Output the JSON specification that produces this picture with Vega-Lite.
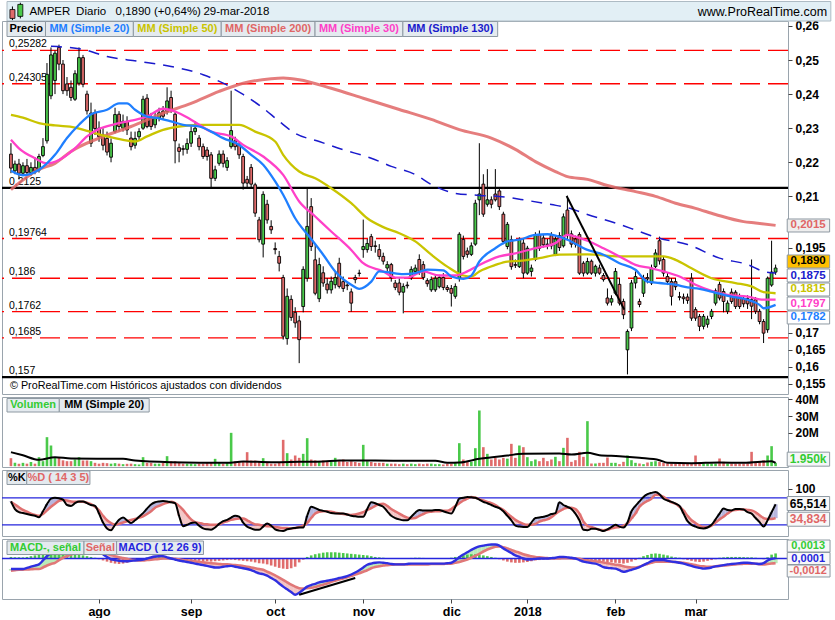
{
"$schema": "https://vega.github.io/schema/vega-lite/v6.json",
"background": "white",
"padding": 0,
"spacing": 3,
"bounds": "flush",
"config": {
  "view": {"stroke": "#9aa4ad", "strokeWidth": 1},
  "font": "Liberation Sans",
  "axis": {"grid": false, "domain": false, "ticks": true, "tickColor": "#444", "tickSize": 4, "labelFont": "Liberation Sans", "labelFontWeight": "bold", "labelFontSize": 12, "labelColor": "#000", "labelPadding": 3}
},
"datasets": {
"lvl": [{"p":0.25282,"t":"0,25282","k":"r"},{"p":0.24305,"t":"0,24305","k":"r"},{"p":0.2125,"t":"0,2125","k":"b"},{"p":0.19764,"t":"0,19764","k":"r"},{"p":0.186,"t":"0,186","k":"r"},{"p":0.1762,"t":"0,1762","k":"r"},{"p":0.1685,"t":"0,1685","k":"r"},{"p":0.157,"t":"0,157","k":"b"}],
"tags": [{"s":"MM50","t":"0,1815","at":0.1827},{"s":"MM30","t":"0,1797","at":0.17859},{"s":"MM20","t":"0,1782","at":0.17449},{"s":"MM130","t":"0,1875","at":0.1868},{"s":"Precio","t":"0,1890","at":0.19091},{"s":"MM200","t":"0,2015","at":0.20147}],
"vma": [{"i":0,"v":8.4},{"i":3,"v":6.5},{"i":7,"v":3.8},{"i":11,"v":5.4},{"i":15,"v":4.6},{"i":28,"v":4.4},{"i":31,"v":3.4},{"i":40,"v":2.4},{"i":54,"v":2.0},{"i":58,"v":2.8},{"i":65,"v":2.4},{"i":72,"v":2.6},{"i":78,"v":2.8},{"i":82,"v":3.4},{"i":91,"v":3.4},{"i":100,"v":3.2},{"i":106,"v":3.2},{"i":109,"v":2.0},{"i":112,"v":2.2},{"i":117,"v":4.4},{"i":124,"v":6.4},{"i":128,"v":7.4},{"i":137,"v":7.6},{"i":140,"v":7.0},{"i":144,"v":8.0},{"i":147,"v":6.6},{"i":152,"v":6.0},{"i":157,"v":5.0},{"i":162,"v":3.6},{"i":164,"v":2.0},{"i":170,"v":1.8},{"i":177,"v":2.2},{"i":183,"v":2.0},{"i":190,"v":3.0},{"i":191,"v":2.0}],
"ma": [
{"s":"MM200","i":0,"v":0.212},{"s":"MM200","i":7,"v":0.2179},{"s":"MM200","i":11,"v":0.2197},{"s":"MM200","i":15,"v":0.2232},{"s":"MM200","i":22,"v":0.2271},{"s":"MM200","i":30,"v":0.2305},{"s":"MM200","i":38,"v":0.2344},{"s":"MM200","i":45,"v":0.2373},{"s":"MM200","i":52,"v":0.2408},{"s":"MM200","i":58,"v":0.2432},{"s":"MM200","i":65,"v":0.2445},{"s":"MM200","i":68,"v":0.2447},{"s":"MM200","i":72,"v":0.2442},{"s":"MM200","i":80,"v":0.2417},{"s":"MM200","i":88,"v":0.2388},{"s":"MM200","i":97,"v":0.2355},{"s":"MM200","i":105,"v":0.2326},{"s":"MM200","i":112,"v":0.2296},{"s":"MM200","i":120,"v":0.2271},{"s":"MM200","i":126,"v":0.2238},{"s":"MM200","i":131,"v":0.2202},{"s":"MM200","i":136,"v":0.2173},{"s":"MM200","i":139,"v":0.2158},{"s":"MM200","i":144,"v":0.215},{"s":"MM200","i":149,"v":0.2132},{"s":"MM200","i":156,"v":0.2114},{"s":"MM200","i":161,"v":0.21},{"s":"MM200","i":166,"v":0.208},{"s":"MM200","i":171,"v":0.2065},{"s":"MM200","i":176,"v":0.2047},{"s":"MM200","i":183,"v":0.2026},{"s":"MM200","i":186,"v":0.2022},{"s":"MM200","i":191,"v":0.2015},
{"s":"MM130","i":10,"v":0.254},{"s":"MM130","i":18,"v":0.2531},{"s":"MM130","i":24,"v":0.251},{"s":"MM130","i":32,"v":0.2496},{"s":"MM130","i":40,"v":0.2481},{"s":"MM130","i":48,"v":0.2457},{"s":"MM130","i":53,"v":0.2432},{"s":"MM130","i":58,"v":0.2399},{"s":"MM130","i":63,"v":0.2359},{"s":"MM130","i":67,"v":0.232},{"s":"MM130","i":71,"v":0.2285},{"s":"MM130","i":77,"v":0.2261},{"s":"MM130","i":83,"v":0.2237},{"s":"MM130","i":90,"v":0.2212},{"s":"MM130","i":95,"v":0.2188},{"s":"MM130","i":101,"v":0.2164},{"s":"MM130","i":105,"v":0.2135},{"s":"MM130","i":111,"v":0.2109},{"s":"MM130","i":117,"v":0.2103},{"s":"MM130","i":122,"v":0.21},{"s":"MM130","i":129,"v":0.2088},{"s":"MM130","i":135,"v":0.2076},{"s":"MM130","i":139,"v":0.2067},{"s":"MM130","i":144,"v":0.2047},{"s":"MM130","i":152,"v":0.2018},{"s":"MM130","i":157,"v":0.1997},{"s":"MM130","i":162,"v":0.1977},{"s":"MM130","i":169,"v":0.1959},{"s":"MM130","i":177,"v":0.1919},{"s":"MM130","i":184,"v":0.19},{"s":"MM130","i":188,"v":0.188},{"s":"MM130","i":191,"v":0.1875},
{"s":"MM50","i":0,"v":0.2339},{"s":"MM50","i":3,"v":0.2331},{"s":"MM50","i":7,"v":0.2315},{"s":"MM50","i":11,"v":0.2308},{"s":"MM50","i":16,"v":0.2302},{"s":"MM50","i":19,"v":0.2292},{"s":"MM50","i":24,"v":0.2276},{"s":"MM50","i":28,"v":0.2266},{"s":"MM50","i":31,"v":0.2261},{"s":"MM50","i":34,"v":0.2276},{"s":"MM50","i":38,"v":0.2295},{"s":"MM50","i":42,"v":0.2305},{"s":"MM50","i":47,"v":0.231},{"s":"MM50","i":53,"v":0.231},{"s":"MM50","i":57,"v":0.231},{"s":"MM50","i":61,"v":0.229},{"s":"MM50","i":66,"v":0.2261},{"s":"MM50","i":68,"v":0.2222},{"s":"MM50","i":72,"v":0.2173},{"s":"MM50","i":76,"v":0.2153},{"s":"MM50","i":80,"v":0.2124},{"s":"MM50","i":85,"v":0.208},{"s":"MM50","i":89,"v":0.2036},{"s":"MM50","i":93,"v":0.201},{"s":"MM50","i":97,"v":0.1992},{"s":"MM50","i":101,"v":0.1968},{"s":"MM50","i":105,"v":0.1929},{"s":"MM50","i":109,"v":0.1894},{"s":"MM50","i":113,"v":0.1868},{"s":"MM50","i":115,"v":0.1865},{"s":"MM50","i":117,"v":0.188},{"s":"MM50","i":121,"v":0.1899},{"s":"MM50","i":124,"v":0.1909},{"s":"MM50","i":127,"v":0.1911},{"s":"MM50","i":132,"v":0.1919},{"s":"MM50","i":137,"v":0.1929},{"s":"MM50","i":144,"v":0.193},{"s":"MM50","i":152,"v":0.1924},{"s":"MM50","i":163,"v":0.1924},{"s":"MM50","i":166,"v":0.1914},{"s":"MM50","i":170,"v":0.1889},{"s":"MM50","i":175,"v":0.186},{"s":"MM50","i":181,"v":0.1846},{"s":"MM50","i":185,"v":0.1836},{"s":"MM50","i":188,"v":0.1819},{"s":"MM50","i":191,"v":0.1816},
{"s":"MM30","i":0,"v":0.2266},{"s":"MM30","i":2,"v":0.2241},{"s":"MM30","i":6,"v":0.2212},{"s":"MM30","i":9,"v":0.2197},{"s":"MM30","i":12,"v":0.2207},{"s":"MM30","i":16,"v":0.2241},{"s":"MM30","i":19,"v":0.2276},{"s":"MM30","i":22,"v":0.2298},{"s":"MM30","i":26,"v":0.2312},{"s":"MM30","i":30,"v":0.2322},{"s":"MM30","i":34,"v":0.2334},{"s":"MM30","i":38,"v":0.2357},{"s":"MM30","i":41,"v":0.2349},{"s":"MM30","i":45,"v":0.2325},{"s":"MM30","i":50,"v":0.229},{"s":"MM30","i":55,"v":0.2276},{"s":"MM30","i":58,"v":0.2251},{"s":"MM30","i":63,"v":0.2217},{"s":"MM30","i":68,"v":0.2163},{"s":"MM30","i":72,"v":0.2085},{"s":"MM30","i":76,"v":0.2041},{"s":"MM30","i":80,"v":0.1997},{"s":"MM30","i":85,"v":0.1943},{"s":"MM30","i":88,"v":0.1904},{"s":"MM30","i":93,"v":0.188},{"s":"MM30","i":96,"v":0.1862},{"s":"MM30","i":99,"v":0.1862},{"s":"MM30","i":103,"v":0.188},{"s":"MM30","i":107,"v":0.1868},{"s":"MM30","i":111,"v":0.1868},{"s":"MM30","i":114,"v":0.188},{"s":"MM30","i":117,"v":0.1899},{"s":"MM30","i":122,"v":0.1924},{"s":"MM30","i":126,"v":0.1933},{"s":"MM30","i":131,"v":0.1948},{"s":"MM30","i":136,"v":0.1963},{"s":"MM30","i":139,"v":0.1987},{"s":"MM30","i":141,"v":0.1982},{"s":"MM30","i":144,"v":0.197},{"s":"MM30","i":148,"v":0.1948},{"s":"MM30","i":152,"v":0.1924},{"s":"MM30","i":156,"v":0.1899},{"s":"MM30","i":160,"v":0.1889},{"s":"MM30","i":163,"v":0.188},{"s":"MM30","i":167,"v":0.1865},{"s":"MM30","i":171,"v":0.1841},{"s":"MM30","i":175,"v":0.1823},{"s":"MM30","i":179,"v":0.1811},{"s":"MM30","i":184,"v":0.1806},{"s":"MM30","i":188,"v":0.1797},{"s":"MM30","i":191,"v":0.1797},
{"s":"MM20","i":0,"v":0.2175},{"s":"MM20","i":3,"v":0.2162},{"s":"MM20","i":7,"v":0.2178},{"s":"MM20","i":11,"v":0.2222},{"s":"MM20","i":14,"v":0.2271},{"s":"MM20","i":17,"v":0.231},{"s":"MM20","i":20,"v":0.2341},{"s":"MM20","i":24,"v":0.2354},{"s":"MM20","i":27,"v":0.2373},{"s":"MM20","i":29,"v":0.2373},{"s":"MM20","i":31,"v":0.2354},{"s":"MM20","i":34,"v":0.2334},{"s":"MM20","i":37,"v":0.2329},{"s":"MM20","i":40,"v":0.232},{"s":"MM20","i":43,"v":0.231},{"s":"MM20","i":47,"v":0.2305},{"s":"MM20","i":50,"v":0.229},{"s":"MM20","i":53,"v":0.2271},{"s":"MM20","i":57,"v":0.2251},{"s":"MM20","i":60,"v":0.2222},{"s":"MM20","i":63,"v":0.2193},{"s":"MM20","i":66,"v":0.2144},{"s":"MM20","i":68,"v":0.2105},{"s":"MM20","i":71,"v":0.2036},{"s":"MM20","i":75,"v":0.1975},{"s":"MM20","i":78,"v":0.1929},{"s":"MM20","i":81,"v":0.188},{"s":"MM20","i":85,"v":0.1841},{"s":"MM20","i":87,"v":0.1829},{"s":"MM20","i":90,"v":0.185},{"s":"MM20","i":92,"v":0.188},{"s":"MM20","i":94,"v":0.1878},{"s":"MM20","i":98,"v":0.1872},{"s":"MM20","i":101,"v":0.1875},{"s":"MM20","i":104,"v":0.1885},{"s":"MM20","i":108,"v":0.1883},{"s":"MM20","i":110,"v":0.1865},{"s":"MM20","i":113,"v":0.1858},{"s":"MM20","i":115,"v":0.1868},{"s":"MM20","i":117,"v":0.1909},{"s":"MM20","i":121,"v":0.1948},{"s":"MM20","i":124,"v":0.1968},{"s":"MM20","i":127,"v":0.1973},{"s":"MM20","i":131,"v":0.1987},{"s":"MM20","i":134,"v":0.1989},{"s":"MM20","i":136,"v":0.1985},{"s":"MM20","i":139,"v":0.1973},{"s":"MM20","i":144,"v":0.1943},{"s":"MM20","i":148,"v":0.1929},{"s":"MM20","i":152,"v":0.1904},{"s":"MM20","i":156,"v":0.1885},{"s":"MM20","i":159,"v":0.185},{"s":"MM20","i":162,"v":0.1846},{"s":"MM20","i":166,"v":0.1841},{"s":"MM20","i":169,"v":0.1833},{"s":"MM20","i":172,"v":0.1829},{"s":"MM20","i":175,"v":0.1821},{"s":"MM20","i":180,"v":0.1806},{"s":"MM20","i":184,"v":0.1797},{"s":"MM20","i":187,"v":0.1782},{"s":"MM20","i":188,"v":0.1772},{"s":"MM20","i":191,"v":0.1782}
],
"c": [
{"i":0,"o":0.2224,"h":0.2256,"l":0.2168,"c":0.2183,"v":4.8,"k":72,"d":71,"m":-0.0027,"s":-0.0031,"hh":0.0004},
{"i":1,"o":0.2175,"h":0.2205,"l":0.2165,"c":0.2195,"v":2,"k":55,"d":65,"m":-0.0027,"s":-0.003,"hh":0.0003},
{"i":2,"o":0.2195,"h":0.221,"l":0.215,"c":0.2168,"v":1.5,"k":48,"d":59,"m":-0.0027,"s":-0.0029,"hh":0.0003},
{"i":3,"o":0.2168,"h":0.22,"l":0.216,"c":0.219,"v":2,"k":46,"d":53,"m":-0.0027,"s":-0.00285,"hh":0.0003},
{"i":4,"o":0.219,"h":0.221,"l":0.216,"c":0.217,"v":1.5,"k":44,"d":49,"m":-0.0024,"s":-0.0028,"hh":0.0004},
{"i":5,"o":0.217,"h":0.22,"l":0.216,"c":0.2185,"v":2.5,"k":42,"d":45,"m":-0.0021,"s":-0.00275,"hh":0.0006},
{"i":6,"o":0.2185,"h":0.2215,"l":0.2165,"c":0.2175,"v":1.5,"k":40,"d":42,"m":-0.0018,"s":-0.0027,"hh":0.0008},
{"i":7,"o":0.2177,"h":0.2225,"l":0.217,"c":0.2217,"v":5.4,"k":37,"d":40,"m":-0.0015,"s":-0.0027,"hh":0.001},
{"i":8,"o":0.222,"h":0.2271,"l":0.2215,"c":0.2246,"v":3,"k":50,"d":44,"m":-0.0005,"s":-0.0023,"hh":0.0012},
{"i":9,"o":0.2263,"h":0.2491,"l":0.2255,"c":0.2458,"v":17.4,"k":66,"d":52,"m":0.0006,"s":-0.0018,"hh":0.0014},
{"i":10,"o":0.2395,"h":0.2537,"l":0.2385,"c":0.2515,"v":12.4,"k":78,"d":60,"m":0.0014,"s":-0.0014,"hh":0.0015},
{"i":11,"o":0.244,"h":0.2528,"l":0.24,"c":0.252,"v":5,"k":80,"d":67,"m":0.0022,"s":-0.0011,"hh":0.0016},
{"i":12,"o":0.2537,"h":0.2545,"l":0.247,"c":0.2488,"v":5,"k":79,"d":73,"m":0.0029,"s":-0.0004,"hh":0.0016},
{"i":13,"o":0.2488,"h":0.25,"l":0.24,"c":0.241,"v":3.5,"k":76,"d":75,"m":0.0033,"s":0.0002,"hh":0.0015},
{"i":14,"o":0.243,"h":0.245,"l":0.2395,"c":0.241,"v":3,"k":64,"d":74,"m":0.0036,"s":0.0006,"hh":0.0014},
{"i":15,"o":0.242,"h":0.244,"l":0.238,"c":0.239,"v":3,"k":62,"d":72,"m":0.0038,"s":0.001,"hh":0.0013},
{"i":16,"o":0.2385,"h":0.247,"l":0.238,"c":0.246,"v":4,"k":68,"d":71,"m":0.0039,"s":0.0014,"hh":0.0012},
{"i":17,"o":0.2432,"h":0.2537,"l":0.2425,"c":0.2507,"v":5.4,"k":72,"d":71,"m":0.0038,"s":0.0017,"hh":0.001},
{"i":18,"o":0.2507,"h":0.2515,"l":0.242,"c":0.2429,"v":3.4,"k":72,"d":71,"m":0.0036,"s":0.0019,"hh":0.0008},
{"i":19,"o":0.24,"h":0.241,"l":0.234,"c":0.2351,"v":3.4,"k":68,"d":69,"m":0.0033,"s":0.0021,"hh":0.0006},
{"i":20,"o":0.2256,"h":0.2375,"l":0.2245,"c":0.2344,"v":3,"k":64,"d":66,"m":0.003,"s":0.0022,"hh":0.0004},
{"i":21,"o":0.2346,"h":0.2355,"l":0.228,"c":0.2299,"v":2,"k":62,"d":60,"m":0.0027,"s":0.0021,"hh":0.0002},
{"i":22,"o":0.23,"h":0.232,"l":0.226,"c":0.2275,"v":1.5,"k":45,"d":52,"m":0.0019,"s":0.0019,"hh":-0.0002},
{"i":23,"o":0.228,"h":0.23,"l":0.2235,"c":0.225,"v":2,"k":25,"d":40,"m":0.0011,"s":0.0015,"hh":-0.0005},
{"i":24,"o":0.227,"h":0.229,"l":0.222,"c":0.223,"v":1.8,"k":12,"d":30,"m":0.0004,"s":0.0012,"hh":-0.0008},
{"i":25,"o":0.2215,"h":0.227,"l":0.22,"c":0.2256,"v":1.5,"k":8,"d":24,"m":-0.0002,"s":0.0009,"hh":-0.0011},
{"i":26,"o":0.229,"h":0.236,"l":0.2285,"c":0.234,"v":1.8,"k":20,"d":20,"m":-0.0004,"s":0.0006,"hh":-0.0013},
{"i":27,"o":0.2341,"h":0.235,"l":0.229,"c":0.2305,"v":1.5,"k":31,"d":22,"m":-0.0006,"s":0.0003,"hh":-0.0014},
{"i":28,"o":0.23,"h":0.234,"l":0.229,"c":0.232,"v":1.2,"k":36,"d":25,"m":-0.0007,"s":0.0001,"hh":-0.0013},
{"i":29,"o":0.232,"h":0.2335,"l":0.228,"c":0.2295,"v":1.4,"k":30,"d":28,"m":-0.0007,"s":-0.0001,"hh":-0.0011},
{"i":30,"o":0.2271,"h":0.229,"l":0.2235,"c":0.2246,"v":1.5,"k":24,"d":31,"m":-0.0006,"s":-0.0003,"hh":-0.0009},
{"i":31,"o":0.225,"h":0.229,"l":0.224,"c":0.227,"v":1.2,"k":30,"d":33,"m":-0.0005,"s":-0.0004,"hh":-0.0006},
{"i":32,"o":0.2275,"h":0.23,"l":0.2265,"c":0.229,"v":1,"k":38,"d":36,"m":-0.0004,"s":-0.0005,"hh":-0.0004},
{"i":33,"o":0.23,"h":0.2395,"l":0.2295,"c":0.2385,"v":5.4,"k":46,"d":39,"m":-0.0003,"s":-0.0005,"hh":-0.0002},
{"i":34,"o":0.2388,"h":0.24,"l":0.23,"c":0.2305,"v":2,"k":56,"d":44,"m":0,"s":-0.0004,"hh":0.0002},
{"i":35,"o":0.233,"h":0.2345,"l":0.2295,"c":0.2305,"v":2,"k":65,"d":50,"m":0.0003,"s":-0.0003,"hh":0.0004},
{"i":36,"o":0.231,"h":0.2345,"l":0.23,"c":0.233,"v":1.5,"k":70,"d":58,"m":0.0005,"s":-0.0002,"hh":0.0005},
{"i":37,"o":0.233,"h":0.236,"l":0.232,"c":0.2345,"v":1.5,"k":72,"d":62,"m":0.0006,"s":-0.0001,"hh":0.0006},
{"i":38,"o":0.235,"h":0.2365,"l":0.2325,"c":0.2335,"v":2,"k":73,"d":66,"m":0.0006,"s":0,"hh":0.0005},
{"i":39,"o":0.2349,"h":0.242,"l":0.234,"c":0.238,"v":6,"k":72,"d":69,"m":0.0003,"s":0,"hh":0.0003},
{"i":40,"o":0.239,"h":0.241,"l":0.2345,"c":0.2355,"v":3,"k":70,"d":71,"m":0,"s":0,"hh":0.0001},
{"i":41,"o":0.2341,"h":0.235,"l":0.2197,"c":0.2263,"v":3,"k":68,"d":68,"m":-0.00025,"s":-0.0001,"hh":-0.0001},
{"i":42,"o":0.2243,"h":0.2255,"l":0.22,"c":0.2232,"v":2.5,"k":40,"d":62,"m":-0.0005,"s":-0.0002,"hh":-0.0003},
{"i":43,"o":0.224,"h":0.225,"l":0.222,"c":0.2238,"v":1.5,"k":17,"d":53,"m":-0.0007,"s":-0.0004,"hh":-0.0004},
{"i":44,"o":0.2238,"h":0.227,"l":0.2225,"c":0.2255,"v":1.5,"k":20,"d":42,"m":-0.0009,"s":-0.0005,"hh":-0.0005},
{"i":45,"o":0.2256,"h":0.231,"l":0.2245,"c":0.229,"v":1.5,"k":24,"d":32,"m":-0.0011,"s":-0.0006,"hh":-0.0005},
{"i":46,"o":0.229,"h":0.232,"l":0.228,"c":0.23,"v":1.2,"k":25,"d":26,"m":-0.0013,"s":-0.0007,"hh":-0.0006},
{"i":47,"o":0.2271,"h":0.228,"l":0.2235,"c":0.2246,"v":1.5,"k":18,"d":24,"m":-0.0015,"s":-0.0009,"hh":-0.0006},
{"i":48,"o":0.2246,"h":0.2255,"l":0.221,"c":0.2217,"v":1.5,"k":12,"d":22,"m":-0.0017,"s":-0.001,"hh":-0.0007},
{"i":49,"o":0.2236,"h":0.2245,"l":0.2205,"c":0.2217,"v":2,"k":10,"d":21,"m":-0.0019,"s":-0.0011,"hh":-0.0007},
{"i":50,"o":0.2222,"h":0.223,"l":0.2127,"c":0.2153,"v":2,"k":9,"d":20,"m":-0.0021,"s":-0.0012,"hh":-0.0008},
{"i":51,"o":0.2153,"h":0.219,"l":0.2145,"c":0.2178,"v":4.4,"k":14,"d":20,"m":-0.0023,"s":-0.0013,"hh":-0.0007},
{"i":52,"o":0.2197,"h":0.2235,"l":0.219,"c":0.2224,"v":2,"k":22,"d":21,"m":-0.0023,"s":-0.0014,"hh":-0.0006},
{"i":53,"o":0.2224,"h":0.2235,"l":0.2185,"c":0.2197,"v":1.5,"k":28,"d":25,"m":-0.0021,"s":-0.0015,"hh":-0.0005},
{"i":54,"o":0.2185,"h":0.2215,"l":0.2175,"c":0.2205,"v":2,"k":31,"d":28,"m":-0.002,"s":-0.0015,"hh":-0.0004},
{"i":55,"o":0.2246,"h":0.241,"l":0.224,"c":0.2293,"v":20,"k":36,"d":31,"m":-0.0019,"s":-0.0016,"hh":-0.0003},
{"i":56,"o":0.2263,"h":0.2275,"l":0.2235,"c":0.2246,"v":3,"k":40,"d":33,"m":-0.0021,"s":-0.0017,"hh":-0.0004},
{"i":57,"o":0.2251,"h":0.226,"l":0.221,"c":0.2222,"v":3,"k":38,"d":34,"m":-0.0023,"s":-0.0018,"hh":-0.0005},
{"i":58,"o":0.2217,"h":0.2225,"l":0.212,"c":0.2139,"v":3,"k":25,"d":34,"m":-0.0025,"s":-0.0019,"hh":-0.0006},
{"i":59,"o":0.215,"h":0.216,"l":0.2125,"c":0.2139,"v":8.4,"k":16,"d":30,"m":-0.0027,"s":-0.0021,"hh":-0.0007},
{"i":60,"o":0.2185,"h":0.2195,"l":0.2125,"c":0.2136,"v":3.4,"k":12,"d":25,"m":-0.003,"s":-0.0023,"hh":-0.0008},
{"i":61,"o":0.2134,"h":0.214,"l":0.204,"c":0.2051,"v":3.4,"k":9,"d":21,"m":-0.0034,"s":-0.0025,"hh":-0.001},
{"i":62,"o":0.2031,"h":0.204,"l":0.1965,"c":0.1973,"v":3,"k":9,"d":20,"m":-0.0038,"s":-0.0027,"hh":-0.0012},
{"i":63,"o":0.196,"h":0.2115,"l":0.1921,"c":0.2106,"v":4.8,"k":16,"d":18,"m":-0.004,"s":-0.0029,"hh":-0.0013},
{"i":64,"o":0.2077,"h":0.209,"l":0.202,"c":0.2031,"v":2,"k":23,"d":17,"m":-0.0044,"s":-0.0034,"hh":-0.0015},
{"i":65,"o":0.2012,"h":0.203,"l":0.199,"c":0.2002,"v":1.5,"k":18,"d":16,"m":-0.005,"s":-0.0038,"hh":-0.0018},
{"i":66,"o":0.1947,"h":0.1965,"l":0.193,"c":0.1944,"v":1.5,"k":10,"d":15,"m":-0.0056,"s":-0.0043,"hh":-0.0021},
{"i":67,"o":0.1924,"h":0.194,"l":0.188,"c":0.1904,"v":2,"k":7,"d":14,"m":-0.0064,"s":-0.0049,"hh":-0.0024},
{"i":68,"o":0.1862,"h":0.187,"l":0.168,"c":0.169,"v":15.8,"k":6,"d":13,"m":-0.0072,"s":-0.0055,"hh":-0.0026},
{"i":69,"o":0.1683,"h":0.183,"l":0.1665,"c":0.1807,"v":7.8,"k":10,"d":13,"m":-0.0079,"s":-0.0061,"hh":-0.0027},
{"i":70,"o":0.1798,"h":0.181,"l":0.1735,"c":0.1745,"v":4,"k":12,"d":12,"m":-0.0086,"s":-0.0067,"hh":-0.0025},
{"i":71,"o":0.176,"h":0.1775,"l":0.1715,"c":0.1729,"v":6.4,"k":13,"d":13,"m":-0.0093,"s":-0.0072,"hh":-0.0021},
{"i":72,"o":0.1735,"h":0.175,"l":0.1611,"c":0.168,"v":5,"k":14,"d":15,"m":-0.0088,"s":-0.0076,"hh":-0.001},
{"i":73,"o":0.1777,"h":0.1895,"l":0.176,"c":0.1886,"v":7.4,"k":14,"d":18,"m":-0.008,"s":-0.0077,"hh":-0.0003},
{"i":74,"o":0.186,"h":0.2126,"l":0.185,"c":0.2012,"v":16.8,"k":40,"d":24,"m":-0.0072,"s":-0.0076,"hh":0.0004},
{"i":75,"o":0.207,"h":0.2095,"l":0.194,"c":0.1953,"v":4,"k":60,"d":35,"m":-0.0068,"s":-0.0075,"hh":0.0008},
{"i":76,"o":0.1914,"h":0.196,"l":0.181,"c":0.1816,"v":3.5,"k":57,"d":45,"m":-0.0065,"s":-0.0073,"hh":0.0011},
{"i":77,"o":0.18,"h":0.192,"l":0.179,"c":0.19,"v":3,"k":53,"d":49,"m":-0.0061,"s":-0.007,"hh":0.0013},
{"i":78,"o":0.1876,"h":0.1895,"l":0.1835,"c":0.1846,"v":3.5,"k":51,"d":50,"m":-0.0059,"s":-0.0067,"hh":0.0015},
{"i":79,"o":0.1843,"h":0.186,"l":0.1815,"c":0.1826,"v":2.5,"k":49,"d":50,"m":-0.0057,"s":-0.0064,"hh":0.0016},
{"i":80,"o":0.1826,"h":0.1865,"l":0.1815,"c":0.1851,"v":2.5,"k":46,"d":49,"m":-0.0055,"s":-0.006,"hh":0.0016},
{"i":81,"o":0.1841,"h":0.188,"l":0.183,"c":0.1862,"v":5,"k":45,"d":47,"m":-0.0053,"s":-0.0057,"hh":0.0016},
{"i":82,"o":0.1904,"h":0.192,"l":0.183,"c":0.1836,"v":3,"k":45,"d":45,"m":-0.005,"s":-0.0054,"hh":0.0015},
{"i":83,"o":0.185,"h":0.1865,"l":0.182,"c":0.183,"v":4,"k":45,"d":44,"m":-0.0048,"s":-0.0051,"hh":0.0014},
{"i":84,"o":0.184,"h":0.185,"l":0.1825,"c":0.1838,"v":2.5,"k":43,"d":43,"m":-0.0045,"s":-0.0048,"hh":0.0013},
{"i":85,"o":0.182,"h":0.183,"l":0.1762,"c":0.1787,"v":3,"k":40,"d":42,"m":-0.0041,"s":-0.0045,"hh":0.0012},
{"i":86,"o":0.1862,"h":0.187,"l":0.1845,"c":0.1856,"v":2.5,"k":39,"d":43,"m":-0.0036,"s":-0.0041,"hh":0.0011},
{"i":87,"o":0.1875,"h":0.1885,"l":0.1865,"c":0.1874,"v":2,"k":38,"d":45,"m":-0.003,"s":-0.0038,"hh":0.001},
{"i":88,"o":0.1944,"h":0.2032,"l":0.192,"c":0.1953,"v":12.8,"k":38,"d":48,"m":-0.0023,"s":-0.0034,"hh":0.0009},
{"i":89,"o":0.1944,"h":0.1975,"l":0.1935,"c":0.1962,"v":3,"k":55,"d":53,"m":-0.0016,"s":-0.003,"hh":0.0008},
{"i":90,"o":0.1982,"h":0.199,"l":0.194,"c":0.1953,"v":2.5,"k":70,"d":57,"m":-0.0013,"s":-0.0025,"hh":0.0006},
{"i":91,"o":0.1955,"h":0.197,"l":0.1935,"c":0.1953,"v":2,"k":68,"d":62,"m":-0.0011,"s":-0.0022,"hh":0.0004},
{"i":92,"o":0.1944,"h":0.196,"l":0.1915,"c":0.1924,"v":2,"k":64,"d":66,"m":-0.001,"s":-0.002,"hh":0.0003},
{"i":93,"o":0.1924,"h":0.1935,"l":0.19,"c":0.191,"v":2,"k":60,"d":67,"m":-0.0011,"s":-0.0018,"hh":0.0002},
{"i":94,"o":0.189,"h":0.191,"l":0.188,"c":0.19,"v":1.5,"k":50,"d":62,"m":-0.0012,"s":-0.0017,"hh":0.0001},
{"i":95,"o":0.19,"h":0.1905,"l":0.185,"c":0.1862,"v":1.5,"k":40,"d":55,"m":-0.0014,"s":-0.0016,"hh":0.00005},
{"i":96,"o":0.1846,"h":0.1855,"l":0.1825,"c":0.1833,"v":1.5,"k":35,"d":50,"m":-0.0015,"s":-0.0015,"hh":0},
{"i":97,"o":0.1846,"h":0.186,"l":0.181,"c":0.1819,"v":1.2,"k":32,"d":45,"m":-0.0015,"s":-0.0015,"hh":-0.00005},
{"i":98,"o":0.1819,"h":0.1845,"l":0.1757,"c":0.1836,"v":1.5,"k":30,"d":40,"m":-0.0015,"s":-0.0015,"hh":0},
{"i":99,"o":0.184,"h":0.185,"l":0.183,"c":0.1838,"v":1.2,"k":30,"d":36,"m":-0.0014,"s":-0.0015,"hh":0.0001},
{"i":100,"o":0.1862,"h":0.1895,"l":0.1855,"c":0.1886,"v":1.5,"k":38,"d":34,"m":-0.0013,"s":-0.0015,"hh":0.00015},
{"i":101,"o":0.188,"h":0.19,"l":0.187,"c":0.189,"v":1.2,"k":47,"d":35,"m":-0.0013,"s":-0.0015,"hh":0.0002},
{"i":102,"o":0.1915,"h":0.193,"l":0.187,"c":0.188,"v":1.5,"k":53,"d":40,"m":-0.0013,"s":-0.0015,"hh":0.0002},
{"i":103,"o":0.19,"h":0.191,"l":0.1855,"c":0.1862,"v":1.2,"k":52,"d":44,"m":-0.0013,"s":-0.0015,"hh":0.00015},
{"i":104,"o":0.1853,"h":0.186,"l":0.1835,"c":0.1844,"v":1.5,"k":52,"d":48,"m":-0.0013,"s":-0.0015,"hh":0.0001},
{"i":105,"o":0.1826,"h":0.1865,"l":0.182,"c":0.1856,"v":1.5,"k":52,"d":49,"m":-0.0013,"s":-0.0014,"hh":0.0001},
{"i":106,"o":0.1826,"h":0.187,"l":0.182,"c":0.186,"v":1.2,"k":53,"d":50,"m":-0.0013,"s":-0.0014,"hh":0.0001},
{"i":107,"o":0.1835,"h":0.187,"l":0.183,"c":0.1862,"v":1.2,"k":53,"d":50,"m":-0.0013,"s":-0.0014,"hh":0.00005},
{"i":108,"o":0.1862,"h":0.1875,"l":0.1825,"c":0.1833,"v":1,"k":50,"d":51,"m":-0.0013,"s":-0.0014,"hh":0},
{"i":109,"o":0.1833,"h":0.184,"l":0.182,"c":0.1827,"v":1.5,"k":47,"d":51,"m":-0.0012,"s":-0.0013,"hh":0.0001},
{"i":110,"o":0.183,"h":0.184,"l":0.1777,"c":0.1816,"v":1.5,"k":45,"d":55,"m":-0.0011,"s":-0.0013,"hh":0.0002},
{"i":111,"o":0.1807,"h":0.1845,"l":0.18,"c":0.1836,"v":2.5,"k":60,"d":62,"m":-0.0005,"s":-0.0011,"hh":0.0004},
{"i":112,"o":0.186,"h":0.1995,"l":0.185,"c":0.1989,"v":13.8,"k":78,"d":68,"m":0.0003,"s":-0.0009,"hh":0.0006},
{"i":113,"o":0.1974,"h":0.1985,"l":0.1915,"c":0.1924,"v":4,"k":80,"d":74,"m":0.001,"s":-0.0006,"hh":0.0008},
{"i":114,"o":0.194,"h":0.195,"l":0.192,"c":0.193,"v":3,"k":82,"d":78,"m":0.0016,"s":-0.00025,"hh":0.001},
{"i":115,"o":0.193,"h":0.1965,"l":0.1925,"c":0.1955,"v":2.5,"k":81,"d":82,"m":0.0022,"s":0.0002,"hh":0.0011},
{"i":116,"o":0.196,"h":0.209,"l":0.1955,"c":0.208,"v":10.8,"k":80,"d":80,"m":0.0027,"s":0.0007,"hh":0.0011},
{"i":117,"o":0.209,"h":0.2256,"l":0.2045,"c":0.2107,"v":33.4,"k":76,"d":77,"m":0.0031,"s":0.0012,"hh":0.001},
{"i":118,"o":0.2136,"h":0.2165,"l":0.204,"c":0.2048,"v":11.4,"k":71,"d":74,"m":0.0033,"s":0.0018,"hh":0.0008},
{"i":119,"o":0.2077,"h":0.218,"l":0.207,"c":0.209,"v":7.4,"k":68,"d":71,"m":0.0035,"s":0.0023,"hh":0.0006},
{"i":120,"o":0.209,"h":0.21,"l":0.2065,"c":0.2077,"v":4,"k":64,"d":68,"m":0.0036,"s":0.0027,"hh":0.0004},
{"i":121,"o":0.2107,"h":0.218,"l":0.2085,"c":0.209,"v":5,"k":60,"d":64,"m":0.0036,"s":0.003,"hh":0.0002},
{"i":122,"o":0.2116,"h":0.2125,"l":0.206,"c":0.207,"v":4,"k":57,"d":58,"m":0.0033,"s":0.0031,"hh":-0.0002},
{"i":123,"o":0.2048,"h":0.2055,"l":0.196,"c":0.1968,"v":5,"k":50,"d":53,"m":0.0026,"s":0.0029,"hh":-0.0005},
{"i":124,"o":0.1953,"h":0.2025,"l":0.1945,"c":0.2018,"v":4.5,"k":40,"d":45,"m":0.002,"s":0.0026,"hh":-0.0008},
{"i":125,"o":0.1973,"h":0.1985,"l":0.1885,"c":0.1894,"v":13.4,"k":30,"d":38,"m":0.0014,"s":0.0022,"hh":-0.001},
{"i":126,"o":0.19,"h":0.1915,"l":0.189,"c":0.1898,"v":5,"k":18,"d":31,"m":0.0008,"s":0.0018,"hh":-0.0011},
{"i":127,"o":0.1894,"h":0.198,"l":0.189,"c":0.1973,"v":12.4,"k":16,"d":26,"m":0.0004,"s":0.0015,"hh":-0.0011},
{"i":128,"o":0.1963,"h":0.1975,"l":0.186,"c":0.1875,"v":11.4,"k":15,"d":22,"m":0,"s":0.0011,"hh":-0.001},
{"i":129,"o":0.1875,"h":0.1955,"l":0.187,"c":0.1948,"v":5.4,"k":15,"d":20,"m":-0.00025,"s":0.0008,"hh":-0.0009},
{"i":130,"o":0.188,"h":0.19,"l":0.1865,"c":0.189,"v":3,"k":25,"d":20,"m":-0.0002,"s":0.0006,"hh":-0.0007},
{"i":131,"o":0.1915,"h":0.1995,"l":0.191,"c":0.1988,"v":4,"k":35,"d":22,"m":-0.0001,"s":0.0004,"hh":-0.0005},
{"i":132,"o":0.1988,"h":0.2,"l":0.194,"c":0.1948,"v":3,"k":36,"d":27,"m":0,"s":0.0003,"hh":-0.0004},
{"i":133,"o":0.1978,"h":0.199,"l":0.195,"c":0.1958,"v":5,"k":38,"d":30,"m":0,"s":0.0002,"hh":-0.0003},
{"i":134,"o":0.196,"h":0.1975,"l":0.1945,"c":0.1958,"v":3,"k":40,"d":32,"m":0,"s":0.0001,"hh":-0.0002},
{"i":135,"o":0.1985,"h":0.1995,"l":0.1945,"c":0.1955,"v":4,"k":44,"d":37,"m":0.0001,"s":0,"hh":0.0001},
{"i":136,"o":0.193,"h":0.1985,"l":0.1925,"c":0.1975,"v":5.6,"k":46,"d":44,"m":0.0002,"s":0,"hh":0.0002},
{"i":137,"o":0.1985,"h":0.1995,"l":0.194,"c":0.195,"v":3,"k":70,"d":50,"m":0.0004,"s":0,"hh":0.0003},
{"i":138,"o":0.1955,"h":0.205,"l":0.195,"c":0.204,"v":11,"k":64,"d":55,"m":0.0004,"s":0.0001,"hh":0.0003},
{"i":139,"o":0.206,"h":0.2102,"l":0.1975,"c":0.1985,"v":17,"k":60,"d":58,"m":0.0003,"s":0.0001,"hh":0.0002},
{"i":140,"o":0.199,"h":0.2,"l":0.195,"c":0.196,"v":2.6,"k":55,"d":58,"m":0.0002,"s":0,"hh":0.0001},
{"i":141,"o":0.1975,"h":0.1985,"l":0.195,"c":0.196,"v":3.6,"k":45,"d":55,"m":0,"s":0,"hh":0},
{"i":142,"o":0.1988,"h":0.1995,"l":0.187,"c":0.1875,"v":8.6,"k":30,"d":45,"m":-0.0004,"s":-0.0001,"hh":-0.0002},
{"i":143,"o":0.1904,"h":0.191,"l":0.1865,"c":0.1875,"v":5.6,"k":9,"d":27,"m":-0.0008,"s":-0.0004,"hh":-0.0003},
{"i":144,"o":0.1875,"h":0.192,"l":0.187,"c":0.1909,"v":27,"k":8,"d":18,"m":-0.001,"s":-0.0005,"hh":-0.0004},
{"i":145,"o":0.191,"h":0.1915,"l":0.187,"c":0.1875,"v":1.6,"k":11,"d":15,"m":-0.0012,"s":-0.0006,"hh":-0.0005},
{"i":146,"o":0.1875,"h":0.19,"l":0.1865,"c":0.1895,"v":1.6,"k":11,"d":12,"m":-0.0013,"s":-0.0007,"hh":-0.0006},
{"i":147,"o":0.189,"h":0.19,"l":0.187,"c":0.1875,"v":2,"k":9,"d":9,"m":-0.0017,"s":-0.00085,"hh":-0.0007},
{"i":148,"o":0.1868,"h":0.1875,"l":0.185,"c":0.1856,"v":2,"k":6,"d":8,"m":-0.0022,"s":-0.001,"hh":-0.0008},
{"i":149,"o":0.1802,"h":0.183,"l":0.178,"c":0.1787,"v":5.2,"k":10,"d":9,"m":-0.0024,"s":-0.0012,"hh":-0.0009},
{"i":150,"o":0.179,"h":0.181,"l":0.178,"c":0.18,"v":2,"k":15,"d":12,"m":-0.0025,"s":-0.0014,"hh":-0.001},
{"i":151,"o":0.1816,"h":0.189,"l":0.181,"c":0.188,"v":2,"k":20,"d":14,"m":-0.0026,"s":-0.0016,"hh":-0.0011},
{"i":152,"o":0.1842,"h":0.186,"l":0.178,"c":0.1787,"v":1.2,"k":16,"d":15,"m":-0.003,"s":-0.0017,"hh":-0.0012},
{"i":153,"o":0.1792,"h":0.18,"l":0.174,"c":0.1753,"v":2.6,"k":14,"d":18,"m":-0.0034,"s":-0.002,"hh":-0.0013},
{"i":154,"o":0.165,"h":0.171,"l":0.1578,"c":0.1704,"v":6.4,"k":25,"d":23,"m":-0.0032,"s":-0.0022,"hh":-0.0011},
{"i":155,"o":0.1714,"h":0.1855,"l":0.1705,"c":0.1846,"v":3.6,"k":50,"d":34,"m":-0.0029,"s":-0.0023,"hh":-0.0008},
{"i":156,"o":0.1846,"h":0.188,"l":0.183,"c":0.1865,"v":2,"k":62,"d":45,"m":-0.0026,"s":-0.0023,"hh":-0.0004},
{"i":157,"o":0.1792,"h":0.18,"l":0.1775,"c":0.1783,"v":1.6,"k":72,"d":60,"m":-0.0022,"s":-0.0021,"hh":0.0002},
{"i":158,"o":0.1816,"h":0.187,"l":0.1805,"c":0.186,"v":1.2,"k":82,"d":68,"m":-0.0017,"s":-0.0017,"hh":0.0006},
{"i":159,"o":0.1862,"h":0.1875,"l":0.1845,"c":0.1858,"v":2.2,"k":88,"d":73,"m":-0.0012,"s":-0.0014,"hh":0.0009},
{"i":160,"o":0.1846,"h":0.19,"l":0.184,"c":0.189,"v":2.6,"k":91,"d":78,"m":-0.0007,"s":-0.0011,"hh":0.0012},
{"i":161,"o":0.1894,"h":0.1945,"l":0.189,"c":0.1934,"v":3,"k":93,"d":87,"m":-0.0004,"s":-0.00085,"hh":0.0013},
{"i":162,"o":0.197,"h":0.1982,"l":0.19,"c":0.1911,"v":2.6,"k":88,"d":86,"m":-0.0004,"s":-0.0008,"hh":0.0012},
{"i":163,"o":0.1915,"h":0.1925,"l":0.1865,"c":0.1875,"v":2,"k":78,"d":82,"m":-0.0004,"s":-0.0008,"hh":0.001},
{"i":164,"o":0.1865,"h":0.1875,"l":0.184,"c":0.185,"v":1.6,"k":74,"d":76,"m":-0.0006,"s":-0.0008,"hh":0.0008},
{"i":165,"o":0.185,"h":0.186,"l":0.178,"c":0.1807,"v":1.6,"k":71,"d":70,"m":-0.0008,"s":-0.00085,"hh":0.0005},
{"i":166,"o":0.185,"h":0.186,"l":0.1825,"c":0.1835,"v":1.6,"k":67,"d":67,"m":-0.0009,"s":-0.0009,"hh":0.0003},
{"i":167,"o":0.1806,"h":0.182,"l":0.1795,"c":0.1804,"v":1.6,"k":62,"d":60,"m":-0.0011,"s":-0.001,"hh":0.0002},
{"i":168,"o":0.1805,"h":0.1815,"l":0.1785,"c":0.18,"v":1.6,"k":45,"d":52,"m":-0.0013,"s":-0.0011,"hh":-0.0002},
{"i":169,"o":0.1805,"h":0.1815,"l":0.1785,"c":0.1795,"v":1.6,"k":28,"d":40,"m":-0.0016,"s":-0.0013,"hh":-0.0004},
{"i":170,"o":0.186,"h":0.1875,"l":0.1735,"c":0.1743,"v":1.6,"k":20,"d":30,"m":-0.0019,"s":-0.0015,"hh":-0.0006},
{"i":171,"o":0.1768,"h":0.1775,"l":0.1735,"c":0.1743,"v":6.4,"k":16,"d":24,"m":-0.0022,"s":-0.0017,"hh":-0.0008},
{"i":172,"o":0.1748,"h":0.1755,"l":0.1705,"c":0.1719,"v":1.6,"k":13,"d":18,"m":-0.0024,"s":-0.0019,"hh":-0.0009},
{"i":173,"o":0.1719,"h":0.1755,"l":0.171,"c":0.1748,"v":1.6,"k":12,"d":15,"m":-0.0026,"s":-0.002,"hh":-0.0008},
{"i":174,"o":0.1725,"h":0.175,"l":0.1715,"c":0.174,"v":1.6,"k":14,"d":15,"m":-0.0025,"s":-0.0021,"hh":-0.0006},
{"i":175,"o":0.1748,"h":0.177,"l":0.174,"c":0.1763,"v":1.6,"k":20,"d":18,"m":-0.0023,"s":-0.0021,"hh":-0.0004},
{"i":176,"o":0.1787,"h":0.183,"l":0.178,"c":0.1823,"v":1.6,"k":32,"d":25,"m":-0.002,"s":-0.002,"hh":-0.0002},
{"i":177,"o":0.1842,"h":0.185,"l":0.1795,"c":0.1802,"v":4.6,"k":45,"d":32,"m":-0.0019,"s":-0.0019,"hh":0.0002},
{"i":178,"o":0.1821,"h":0.183,"l":0.176,"c":0.1792,"v":2.6,"k":56,"d":38,"m":-0.0017,"s":-0.0018,"hh":0.0003},
{"i":179,"o":0.1763,"h":0.1795,"l":0.1755,"c":0.1787,"v":1.6,"k":53,"d":45,"m":-0.0015,"s":-0.0017,"hh":0.0004},
{"i":180,"o":0.1819,"h":0.183,"l":0.1785,"c":0.1792,"v":1.6,"k":52,"d":51,"m":-0.0014,"s":-0.0016,"hh":0.0004},
{"i":181,"o":0.1819,"h":0.1825,"l":0.177,"c":0.1777,"v":1.6,"k":55,"d":53,"m":-0.0013,"s":-0.0015,"hh":0.0004},
{"i":182,"o":0.1806,"h":0.1815,"l":0.177,"c":0.1777,"v":1.6,"k":55,"d":54,"m":-0.0012,"s":-0.0014,"hh":0.0004},
{"i":183,"o":0.18,"h":0.181,"l":0.1775,"c":0.1785,"v":1.6,"k":54,"d":54,"m":-0.0011,"s":-0.00135,"hh":0.00035},
{"i":184,"o":0.18,"h":0.181,"l":0.177,"c":0.1785,"v":1.6,"k":48,"d":53,"m":-0.0011,"s":-0.0013,"hh":0.0003},
{"i":185,"o":0.1797,"h":0.1915,"l":0.174,"c":0.1778,"v":8.6,"k":45,"d":52,"m":-0.0012,"s":-0.0013,"hh":0.0003},
{"i":186,"o":0.1797,"h":0.1805,"l":0.1755,"c":0.1763,"v":2.6,"k":35,"d":48,"m":-0.0013,"s":-0.00135,"hh":0.0002},
{"i":187,"o":0.1763,"h":0.177,"l":0.1725,"c":0.1733,"v":2.6,"k":26,"d":41,"m":-0.0014,"s":-0.00145,"hh":-0.0001},
{"i":188,"o":0.1733,"h":0.174,"l":0.167,"c":0.1699,"v":3.6,"k":16,"d":35,"m":-0.0012,"s":-0.0015,"hh":-0.0002},
{"i":189,"o":0.1709,"h":0.1865,"l":0.17,"c":0.186,"v":6.4,"k":30,"d":33,"m":-0.0005,"s":-0.0014,"hh":0.0003},
{"i":190,"o":0.184,"h":0.197,"l":0.1835,"c":0.1878,"v":12,"k":48,"d":33,"m":-0.0001,"s":-0.0013,"hh":0.001},
{"i":191,"o":0.1878,"h":0.19,"l":0.187,"c":0.189,"v":2,"k":65.5,"d":34.8,"m":0.0001,"s":-0.0012,"hh":0.0013}
]
},
"vconcat": [
{
"width": 786, "height": 373,
"resolve": {"axis": {"x": "independent", "y": "independent"}},
"layer": [
 {"data":{"values":[{}]},"mark":{"type":"rect","fill":"#e2eff5","stroke":"#aebbc4","strokeWidth":1},
  "encoding":{"x":{"datum":-0.986,"type":"quantitative","scale":{"domain":[-0.986,192.85],"nice":false,"zero":false},"axis":null},"x2":{"datum":204.8},
   "y":{"datum":0.26144,"type":"quantitative","scale":{"domain":[0.15205,0.26144],"nice":false,"zero":false},"axis":null},"y2":{"datum":0.26716}}},
 {"data":{"values":[{"x":0.37,"lo":0.2617,"hi":0.2657},{"x":2.34,"lo":0.2622,"hi":0.2668}]},"mark":{"type":"rule","color":"#000","strokeWidth":1},
  "encoding":{"x":{"field":"x","type":"quantitative","scale":{"domain":[-0.986,192.85],"nice":false,"zero":false},"axis":null},
   "y":{"field":"lo","type":"quantitative","scale":{"domain":[0.15205,0.26144],"nice":false,"zero":false},"axis":null},"y2":{"field":"hi"}}},
 {"data":{"values":[{"x":0.37,"lo":0.2622,"hi":0.2648,"g":0},{"x":2.34,"lo":0.2628,"hi":0.2663,"g":1}]},"mark":{"type":"bar","width":5,"stroke":"#000","strokeWidth":0.8},
  "encoding":{"x":{"field":"x","type":"quantitative","scale":{"domain":[-0.986,192.85],"nice":false,"zero":false},"axis":null},
   "y":{"field":"lo","type":"quantitative","scale":{"domain":[0.15205,0.26144],"nice":false,"zero":false},"axis":null},"y2":{"field":"hi"},
   "fill":{"condition":{"test":"datum.g == 1","value":"#4ac94a"},"value":"#e06b6b"}}},
 {"data":{"values":[{"t":"AMPER","x":4.61},{"t":"Diario","x":16.28},{"t":"0,1890 (+0,64%)","x":26.14},{"t":"29-mar-2018","x":48.09}]},"mark":{"type":"text","align":"left","baseline":"middle","fontSize":11.5,"color":"#000"},
  "encoding":{"x":{"field":"x","type":"quantitative","scale":{"domain":[-0.986,192.85],"nice":false,"zero":false},"axis":null},"y":{"datum":0.26422,"type":"quantitative","scale":{"domain":[0.15205,0.26144],"nice":false,"zero":false},"axis":null},"text":{"field":"t"}}},
 {"data":{"values":[{}]},"mark":{"type":"text","text":"www.ProRealTime.com","align":"right","baseline":"middle","fontSize":12.5,"color":"#000"},
  "encoding":{"x":{"datum":203.87,"type":"quantitative","scale":{"domain":[-0.986,192.85],"nice":false,"zero":false},"axis":null},"y":{"datum":0.26422,"type":"quantitative","scale":{"domain":[0.15205,0.26144],"nice":false,"zero":false},"axis":null}}},
 {"data":{"name":"lvl"},"transform":[{"filter":"datum.k == 'r'"}],"mark":{"type":"rule","stroke":"#ff0000","strokeWidth":1.4,"strokeDash":[20,8]},
  "encoding":{"y":{"field":"p","type":"quantitative","scale":{"domain":[0.15205,0.26144],"nice":false,"zero":false},
   "axis":{"orient":"right","title":null,"values":[0.155,0.16,0.165,0.17,0.195,0.21,0.22,0.23,0.24,0.25,0.26],"labelExpr":"replace(format(datum.value,'.3~f'),'.',',')"}}}},
 {"data":{"name":"lvl"},"transform":[{"filter":"datum.k == 'b'"}],"mark":{"type":"rule","stroke":"#000000","strokeWidth":2.2},
  "encoding":{"y":{"field":"p","type":"quantitative","scale":{"domain":[0.15205,0.26144],"nice":false,"zero":false},"axis":null}}},
 {"data":{"name":"lvl"},"mark":{"type":"text","align":"left","baseline":"bottom","dy":-1,"fontSize":10.5,"color":"#000"},
  "encoding":{"x":{"datum":-0.5,"type":"quantitative","scale":{"domain":[-0.986,192.85],"nice":false,"zero":false},"axis":null},
   "y":{"field":"p","type":"quantitative","scale":{"domain":[0.15205,0.26144],"nice":false,"zero":false},"axis":null},"text":{"field":"t"}}},
 {"data":{"name":"c"},"mark":{"type":"rule","color":"#000","strokeWidth":1},
  "encoding":{"x":{"field":"i","type":"quantitative","scale":{"domain":[-0.986,192.85],"nice":false,"zero":false},"axis":null},
   "y":{"field":"l","type":"quantitative","scale":{"domain":[0.15205,0.26144],"nice":false,"zero":false},"axis":null},"y2":{"field":"h"}}},
 {"data":{"name":"c"},"mark":{"type":"bar","width":2.8,"stroke":"#000","strokeWidth":0.9},
  "encoding":{"x":{"field":"i","type":"quantitative","scale":{"domain":[-0.986,192.85],"nice":false,"zero":false},"axis":null},
   "y":{"field":"o","type":"quantitative","scale":{"domain":[0.15205,0.26144],"nice":false,"zero":false},"axis":null},"y2":{"field":"c"},
   "fill":{"condition":{"test":"datum.c >= datum.o","value":"#4ac94a"},"value":"#e06b6b"}}},
 {"data":{"name":"ma"},"transform":[{"filter":"datum.s == 'MM200'"}],"mark":{"type":"line","color":"#e06666","strokeWidth":3,"opacity":0.85,"interpolate":"monotone"},
  "encoding":{"x":{"field":"i","type":"quantitative","scale":{"domain":[-0.986,192.85],"nice":false,"zero":false},"axis":null},"y":{"field":"v","type":"quantitative","scale":{"domain":[0.15205,0.26144],"nice":false,"zero":false},"axis":null}}},
 {"data":{"name":"ma"},"transform":[{"filter":"datum.s == 'MM130'"}],"mark":{"type":"line","color":"#1a1acc","strokeWidth":1.5,"strokeDash":[11,8],"interpolate":"monotone"},
  "encoding":{"x":{"field":"i","type":"quantitative","scale":{"domain":[-0.986,192.85],"nice":false,"zero":false},"axis":null},"y":{"field":"v","type":"quantitative","scale":{"domain":[0.15205,0.26144],"nice":false,"zero":false},"axis":null}}},
 {"data":{"name":"ma"},"transform":[{"filter":"datum.s == 'MM50'"}],"mark":{"type":"line","color":"#c9c400","strokeWidth":2.3,"interpolate":"monotone"},
  "encoding":{"x":{"field":"i","type":"quantitative","scale":{"domain":[-0.986,192.85],"nice":false,"zero":false},"axis":null},"y":{"field":"v","type":"quantitative","scale":{"domain":[0.15205,0.26144],"nice":false,"zero":false},"axis":null}}},
 {"data":{"name":"ma"},"transform":[{"filter":"datum.s == 'MM30'"}],"mark":{"type":"line","color":"#ff40c8","strokeWidth":2.3,"interpolate":"monotone"},
  "encoding":{"x":{"field":"i","type":"quantitative","scale":{"domain":[-0.986,192.85],"nice":false,"zero":false},"axis":null},"y":{"field":"v","type":"quantitative","scale":{"domain":[0.15205,0.26144],"nice":false,"zero":false},"axis":null}}},
 {"data":{"name":"ma"},"transform":[{"filter":"datum.s == 'MM20'"}],"mark":{"type":"line","color":"#1f7fff","strokeWidth":2.3,"interpolate":"monotone"},
  "encoding":{"x":{"field":"i","type":"quantitative","scale":{"domain":[-0.986,192.85],"nice":false,"zero":false},"axis":null},"y":{"field":"v","type":"quantitative","scale":{"domain":[0.15205,0.26144],"nice":false,"zero":false},"axis":null}}},
 {"data":{"values":[{"i":138.8,"p":0.2101},{"i":153.2,"p":0.1768}]},"mark":{"type":"line","color":"#000","strokeWidth":2},
  "encoding":{"x":{"field":"i","type":"quantitative","scale":{"domain":[-0.986,192.85],"nice":false,"zero":false},"axis":null},"y":{"field":"p","type":"quantitative","scale":{"domain":[0.15205,0.26144],"nice":false,"zero":false},"axis":null}}},
 {"data":{"values":[{"a":-0.986,"b":8.63},{"a":8.63,"b":30.58},{"a":30.58,"b":52.53},{"a":52.53,"b":75.96},{"a":75.96,"b":97.9},{"a":97.9,"b":121.58}]},"mark":{"type":"rect","fill":"#e4eaef","stroke":"#8e99a2","strokeWidth":1},
  "encoding":{"x":{"field":"a","type":"quantitative","scale":{"domain":[-0.986,192.85],"nice":false,"zero":false},"axis":null},"x2":{"field":"b"},
   "y":{"datum":0.26129,"type":"quantitative","scale":{"domain":[0.15205,0.26144],"nice":false,"zero":false},"axis":null},"y2":{"datum":0.25689}}},
 {"data":{"values":[{"t":"Precio","x":3.82,"s":"Precio"},{"t":"MM (Simple 20)","x":19.6,"s":"MM20"},{"t":"MM (Simple 50)","x":41.55,"s":"MM50"},{"t":"MM (Simple 200)","x":64.24,"s":"MM200"},{"t":"MM (Simple 30)","x":86.93,"s":"MM30"},{"t":"MM (Simple 130)","x":109.74,"s":"MM130"}]},
  "mark":{"type":"text","fontWeight":"bold","fontSize":11,"baseline":"middle","align":"center"},
  "encoding":{"x":{"field":"x","type":"quantitative","scale":{"domain":[-0.986,192.85],"nice":false,"zero":false},"axis":null},
   "y":{"datum":0.25909,"type":"quantitative","scale":{"domain":[0.15205,0.26144],"nice":false,"zero":false},"axis":null},"text":{"field":"t"},
   "color":{"condition":[{"test":"datum.s == 'MM20'","value":"#1f7fff"},{"test":"datum.s == 'MM50'","value":"#c9c400"},{"test":"datum.s == 'MM200'","value":"#e06666"},{"test":"datum.s == 'MM30'","value":"#ff40c8"},{"test":"datum.s == 'MM130'","value":"#1a1acc"}],"value":"#000000"}}},
 {"data":{"values":[{}]},"mark":{"type":"text","text":"© ProRealTime.com  Históricos ajustados con dividendos","align":"left","fontSize":10.8,"color":"#000","baseline":"middle"},
  "encoding":{"x":{"datum":-0.25,"type":"quantitative","scale":{"domain":[-0.986,192.85],"nice":false,"zero":false},"axis":null},"y":{"datum":0.15425,"type":"quantitative","scale":{"domain":[0.15205,0.26144],"nice":false,"zero":false},"axis":null}}},
 {"data":{"name":"tags"},"mark":{"type":"rect","stroke":"#8e99a2","strokeWidth":1,"height":13},
  "encoding":{"x":{"datum":193.9,"type":"quantitative","scale":{"domain":[-0.986,192.85],"nice":false,"zero":false},"axis":null},"x2":{"datum":204.5},
   "y":{"field":"at","type":"quantitative","scale":{"domain":[0.15205,0.26144],"nice":false,"zero":false},"axis":null},
   "fill":{"condition":[{"test":"datum.s == 'Precio'","value":"#ffc000"},{"test":"datum.s == 'MM200'","value":"#eeeeee"}],"value":"#ffffff"}}},
 {"data":{"name":"tags"},"mark":{"type":"text","fontWeight":"bold","fontSize":11.5,"baseline":"middle","align":"center"},
  "encoding":{"x":{"datum":199.14,"type":"quantitative","scale":{"domain":[-0.986,192.85],"nice":false,"zero":false},"axis":null},
   "y":{"field":"at","type":"quantitative","scale":{"domain":[0.15205,0.26144],"nice":false,"zero":false},"axis":null},
   "text":{"field":"t"},
   "color":{"condition":[{"test":"datum.s == 'MM20'","value":"#1f7fff"},{"test":"datum.s == 'MM50'","value":"#c9c400"},{"test":"datum.s == 'MM200'","value":"#e06666"},{"test":"datum.s == 'MM30'","value":"#ff40c8"},{"test":"datum.s == 'MM130'","value":"#1a1acc"}],"value":"#000000"}}}
]
},
{
"width": 786, "height": 70,
"resolve": {"axis": {"x": "independent", "y": "independent"}},
"layer": [
 {"data":{"name":"c"},"mark":{"type":"bar","width":2.6},
  "encoding":{"x":{"field":"i","type":"quantitative","scale":{"domain":[-0.986,192.85],"nice":false,"zero":false},"axis":null},
   "y":{"field":"v","type":"quantitative","scale":{"domain":[-0.5,41.5],"nice":false,"zero":false},"axis":{"orient":"right","title":null,"values":[20,30,40],"labelExpr":"datum.value + 'M'"}},
   "y2":{"datum":0},
   "fill":{"condition":{"test":"datum.c >= datum.o","value":"#4ac94a"},"value":"#e06b6b"}}},
 {"data":{"name":"vma"},"mark":{"type":"line","color":"#000","strokeWidth":2,"interpolate":"monotone"},
  "encoding":{"x":{"field":"i","type":"quantitative","scale":{"domain":[-0.986,192.85],"nice":false,"zero":false},"axis":null},
   "y":{"field":"v","type":"quantitative","scale":{"domain":[-0.5,41.5],"nice":false,"zero":false},"axis":null}}},
 {"data":{"values":[{"a":-0.986,"b":12.08},{"a":12.08,"b":34.53}]},"mark":{"type":"rect","fill":"#e4eaef","stroke":"#8e99a2","strokeWidth":1},
  "encoding":{"x":{"field":"a","type":"quantitative","scale":{"domain":[-0.986,192.85],"nice":false,"zero":false},"axis":null},"x2":{"field":"b"},
   "y":{"datum":40.6,"type":"quantitative","scale":{"domain":[-0.5,41.5],"nice":false,"zero":false},"axis":null},"y2":{"datum":32.5}}},
 {"data":{"values":[{"t":"Volumen","x":5.55,"s":"g"},{"t":"MM (Simple 20)","x":23.3,"s":"k"}]},"mark":{"type":"text","fontWeight":"bold","fontSize":11,"baseline":"middle","align":"center"},
  "encoding":{"x":{"field":"x","type":"quantitative","scale":{"domain":[-0.986,192.85],"nice":false,"zero":false},"axis":null},
   "y":{"datum":36.5,"type":"quantitative","scale":{"domain":[-0.5,41.5],"nice":false,"zero":false},"axis":null},"text":{"field":"t"},
   "color":{"condition":{"test":"datum.s == 'g'","value":"#33cc33"},"value":"#000000"}}},
 {"data":{"values":[{"t":"1.950k","at":4.2}]},"mark":{"type":"rect","height":14,"fill":"#f4f6f7","stroke":"#8e99a2","strokeWidth":1},
  "encoding":{"x":{"datum":193.9,"type":"quantitative","scale":{"domain":[-0.986,192.85],"nice":false,"zero":false},"axis":null},"x2":{"datum":204.5},
   "y":{"field":"at","type":"quantitative","scale":{"domain":[-0.5,41.5],"nice":false,"zero":false},"axis":null}}},
 {"data":{"values":[{"t":"1.950k","at":4.2}]},"mark":{"type":"text","fontWeight":"bold","fontSize":12,"baseline":"middle","align":"center","color":"#33cc33"},
  "encoding":{"x":{"datum":199.14,"type":"quantitative","scale":{"domain":[-0.986,192.85],"nice":false,"zero":false},"axis":null},
   "y":{"field":"at","type":"quantitative","scale":{"domain":[-0.5,41.5],"nice":false,"zero":false},"axis":null},"text":{"field":"t"}}}
]
},
{
"width": 786, "height": 66,
"resolve": {"axis": {"x": "independent", "y": "independent"}},
"layer": [
 {"data":{"name":"c"},"mark":{"type":"bar","width":4.1},
  "encoding":{"x":{"field":"i","type":"quantitative","scale":{"domain":[-0.986,192.85],"nice":false,"zero":false},"axis":null},
   "y":{"field":"k","type":"quantitative","scale":{"domain":[-4.9,141.8],"nice":false,"zero":false},"axis":{"orient":"right","title":null,"values":[100]}},
   "y2":{"field":"d"},
   "fill":{"condition":{"test":"datum.k >= datum.d","value":"#b6b6de"},"value":"#f3c6c6"}}},
 {"data":{"values":[{"y":80},{"y":20}]},"mark":{"type":"rule","stroke":"#2525dd","strokeWidth":1.3},
  "encoding":{"y":{"field":"y","type":"quantitative","scale":{"domain":[-4.9,141.8],"nice":false,"zero":false},"axis":null}}},
 {"data":{"name":"c"},"mark":{"type":"line","color":"#e07070","strokeWidth":2.5,"interpolate":"monotone"},
  "encoding":{"x":{"field":"i","type":"quantitative","scale":{"domain":[-0.986,192.85],"nice":false,"zero":false},"axis":null},"y":{"field":"d","type":"quantitative","scale":{"domain":[-4.9,141.8],"nice":false,"zero":false},"axis":null}}},
 {"data":{"name":"c"},"mark":{"type":"line","color":"#000","strokeWidth":2,"interpolate":"monotone"},
  "encoding":{"x":{"field":"i","type":"quantitative","scale":{"domain":[-0.986,192.85],"nice":false,"zero":false},"axis":null},"y":{"field":"k","type":"quantitative","scale":{"domain":[-4.9,141.8],"nice":false,"zero":false},"axis":null}}},
 {"data":{"values":[{"a":-0.986,"b":3.946},{"a":3.946,"b":19.73}]},"mark":{"type":"rect","fill":"#e4eaef","stroke":"#8e99a2","strokeWidth":1},
  "encoding":{"x":{"field":"a","type":"quantitative","scale":{"domain":[-0.986,192.85],"nice":false,"zero":false},"axis":null},"x2":{"field":"b"},
   "y":{"datum":139.6,"type":"quantitative","scale":{"domain":[-4.9,141.8],"nice":false,"zero":false},"axis":null},"y2":{"datum":109.6}}},
 {"data":{"values":[{"t":"%K","x":1.48,"s":"k"},{"t":"%D ( 14 3 5)","x":11.84,"s":"d"}]},"mark":{"type":"text","fontWeight":"bold","fontSize":11,"baseline":"middle","align":"center"},
  "encoding":{"x":{"field":"x","type":"quantitative","scale":{"domain":[-0.986,192.85],"nice":false,"zero":false},"axis":null},
   "y":{"datum":125.1,"type":"quantitative","scale":{"domain":[-4.9,141.8],"nice":false,"zero":false},"axis":null},"text":{"field":"t"},
   "color":{"condition":{"test":"datum.s == 'd'","value":"#e06666"},"value":"#000000"}}},
 {"data":{"values":[{"t":"65,514","at":67.3,"s":"k"},{"t":"34,834","at":32.4,"s":"d"}]},"mark":{"type":"rect","height":14,"fill":"#f8f8f8","stroke":"#8e99a2","strokeWidth":1},
  "encoding":{"x":{"datum":193.9,"type":"quantitative","scale":{"domain":[-0.986,192.85],"nice":false,"zero":false},"axis":null},"x2":{"datum":204.5},
   "y":{"field":"at","type":"quantitative","scale":{"domain":[-4.9,141.8],"nice":false,"zero":false},"axis":null}}},
 {"data":{"values":[{"t":"65,514","at":67.3,"s":"k"},{"t":"34,834","at":32.4,"s":"d"}]},"mark":{"type":"text","fontWeight":"bold","fontSize":12,"baseline":"middle","align":"center"},
  "encoding":{"x":{"datum":199.14,"type":"quantitative","scale":{"domain":[-0.986,192.85],"nice":false,"zero":false},"axis":null},
   "y":{"field":"at","type":"quantitative","scale":{"domain":[-4.9,141.8],"nice":false,"zero":false},"axis":null},"text":{"field":"t"},
   "color":{"condition":{"test":"datum.s == 'd'","value":"#e06666"},"value":"#000000"}}}
]
},
{
"width": 786, "height": 60,
"resolve": {"axis": {"x": "independent", "y": "independent"}},
"layer": [
 {"data":{"name":"c"},"mark":{"type":"bar","width":4.1},
  "encoding":{"x":{"field":"i","type":"quantitative","scale":{"domain":[-0.986,192.85],"nice":false,"zero":false},
    "axis":{"orient":"bottom","title":null,"values":[22,45,66,88,110,129,151,171],"labelExpr":"['ago','sep','oct','nov','dic','2018','feb','mar'][indexof([22,45,66,88,110,129,151,171], datum.value)]","tickSize":4,"labelPadding":2,"labelFontSize":12.5}},
   "y":{"field":"m","type":"quantitative","scale":{"domain":[-0.01038,0.005],"nice":false,"zero":false},"axis":null},
   "y2":{"field":"s"},
   "fill":{"condition":{"test":"datum.m >= datum.s","value":"#b9ebb9"},"value":"#f3c4c4"}}},
 {"data":{"name":"c"},"mark":{"type":"bar","width":2.6},
  "encoding":{"x":{"field":"i","type":"quantitative","scale":{"domain":[-0.986,192.85],"nice":false,"zero":false},"axis":null},
   "y":{"field":"hh","type":"quantitative","scale":{"domain":[-0.01038,0.005],"nice":false,"zero":false},"axis":null},
   "y2":{"datum":0},
   "fill":{"condition":{"test":"datum.hh >= 0","value":"#4ac94a"},"value":"#e06b6b"}}},
 {"data":{"values":[{"y":0}]},"mark":{"type":"rule","stroke":"#2525dd","strokeWidth":1.3},
  "encoding":{"y":{"field":"y","type":"quantitative","scale":{"domain":[-0.01038,0.005],"nice":false,"zero":false},"axis":null}}},
 {"data":{"name":"c"},"mark":{"type":"line","color":"#e07878","strokeWidth":2.6,"interpolate":"monotone"},
  "encoding":{"x":{"field":"i","type":"quantitative","scale":{"domain":[-0.986,192.85],"nice":false,"zero":false},"axis":null},"y":{"field":"s","type":"quantitative","scale":{"domain":[-0.01038,0.005],"nice":false,"zero":false},"axis":null}}},
 {"data":{"name":"c"},"mark":{"type":"line","color":"#2f2fe0","strokeWidth":2.4,"interpolate":"monotone"},
  "encoding":{"x":{"field":"i","type":"quantitative","scale":{"domain":[-0.986,192.85],"nice":false,"zero":false},"axis":null},"y":{"field":"m","type":"quantitative","scale":{"domain":[-0.01038,0.005],"nice":false,"zero":false},"axis":null}}},
 {"data":{"values":[{"i":72,"m":-0.0093},{"i":86,"m":-0.005}]},"mark":{"type":"line","color":"#000","strokeWidth":2},
  "encoding":{"x":{"field":"i","type":"quantitative","scale":{"domain":[-0.986,192.85],"nice":false,"zero":false},"axis":null},"y":{"field":"m","type":"quantitative","scale":{"domain":[-0.01038,0.005],"nice":false,"zero":false},"axis":null}}},
 {"data":{"values":[{"a":-0.986,"b":18.25},{"a":18.25,"b":26.39},{"a":26.39,"b":48.09}]},"mark":{"type":"rect","fill":"#e4eaef","stroke":"#8e99a2","strokeWidth":1},
  "encoding":{"x":{"field":"a","type":"quantitative","scale":{"domain":[-0.986,192.85],"nice":false,"zero":false},"axis":null},"x2":{"field":"b"},
   "y":{"datum":0.004487,"type":"quantitative","scale":{"domain":[-0.01038,0.005],"nice":false,"zero":false},"axis":null},"y2":{"datum":0.001026}}},
 {"data":{"values":[{"t":"MACD-, señal","x":8.63,"s":"h"},{"t":"Señal","x":22.32,"s":"s"},{"t":"MACD ( 12 26 9)","x":37.24,"s":"m"}]},"mark":{"type":"text","fontWeight":"bold","fontSize":11,"baseline":"middle","align":"center"},
  "encoding":{"x":{"field":"x","type":"quantitative","scale":{"domain":[-0.986,192.85],"nice":false,"zero":false},"axis":null},
   "y":{"datum":0.002756,"type":"quantitative","scale":{"domain":[-0.01038,0.005],"nice":false,"zero":false},"axis":null},"text":{"field":"t"},
   "color":{"condition":[{"test":"datum.s == 'h'","value":"#33cc33"},{"test":"datum.s == 's'","value":"#e06666"}],"value":"#2525dd"}}},
 {"data":{"values":[{"t":"0,0013","at":0.0032,"s":"h"},{"t":"0,0001","at":0.0,"s":"m"},{"t":"-0,0012","at":-0.0032,"s":"s"}]},"mark":{"type":"rect","height":12,"fill":"#f8f8f8","stroke":"#8e99a2","strokeWidth":1},
  "encoding":{"x":{"datum":193.9,"type":"quantitative","scale":{"domain":[-0.986,192.85],"nice":false,"zero":false},"axis":null},"x2":{"datum":204.6},
   "y":{"field":"at","type":"quantitative","scale":{"domain":[-0.01038,0.005],"nice":false,"zero":false},"axis":null}}},
 {"data":{"values":[{"t":"0,0013","at":0.0032,"s":"h"},{"t":"0,0001","at":0.0,"s":"m"},{"t":"-0,0012","at":-0.0032,"s":"s"}]},"mark":{"type":"text","fontWeight":"bold","fontSize":11,"baseline":"middle","align":"center"},
  "encoding":{"x":{"datum":199.14,"type":"quantitative","scale":{"domain":[-0.986,192.85],"nice":false,"zero":false},"axis":null},
   "y":{"field":"at","type":"quantitative","scale":{"domain":[-0.01038,0.005],"nice":false,"zero":false},"axis":null},"text":{"field":"t"},
   "color":{"condition":[{"test":"datum.s == 'h'","value":"#33cc33"},{"test":"datum.s == 's'","value":"#e06666"}],"value":"#2525dd"}}}
]
}
]
}
